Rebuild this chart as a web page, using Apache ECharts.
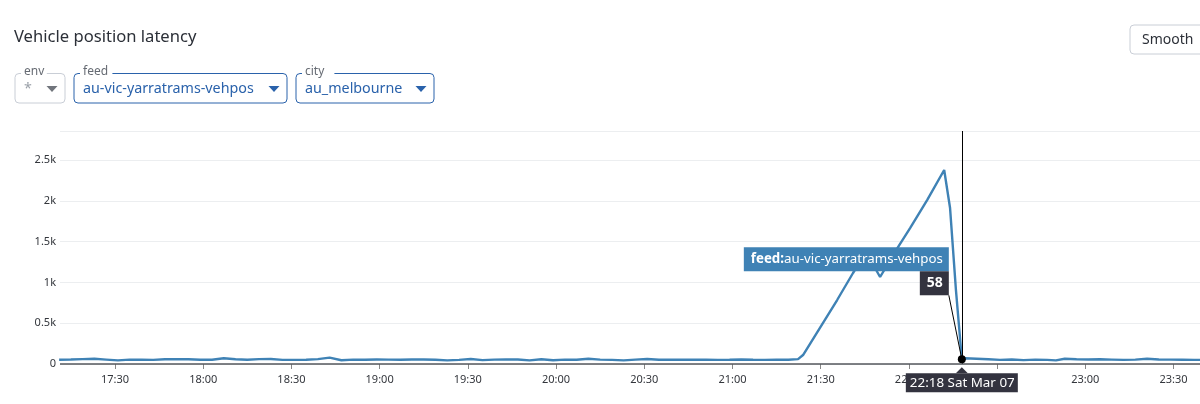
<!DOCTYPE html>
<html>
<head>
<meta charset="utf-8">
<style>
html, body { margin: 0; padding: 0; background: #fff; }
#chart { width: 1200px; height: 404px; }
</style>
<script src="https://cdn.jsdelivr.net/npm/echarts@6/dist/echarts.min.js"></script>
</head>
<body>
<div id="chart"></div>
<script>
// minutes after midnight and latency
var baseMinutes = [1031,1035,1039,1043,1047,1051,1055,1059,1063,1067,1071,1075,1079,1083,1087,1091,1095,1099,1103,1107,1111,1115,1119,1123,1127,1131,1135,1139,1143,1147,1151,1155,1159,1163,1167,1171,1175,1179,1183,1187,1191,1195,1199,1203,1207,1211,1215,1219,1223,1227,1231,1235,1239,1243,1247,1251,1255,1259,1263,1267,1271,1275,1279];
var baseLatency = [52,55,60,64,54,44,54,52,50,58,60,58,52,52,70,58,52,60,62,50,50,52,60,78,46,54,52,56,54,52,56,56,52,44,50,62,48,54,56,56,44,58,46,54,52,64,54,50,44,54,62,52,54,52,52,54,50,52,56,52,50,52,52];

var spikeMinutes = [1282.3,1284,1295.6,1301,1305.4,1310.2,1316.3,1320.4,1326.2,1332,1334,1336,1338];
var spikeLatency = [60,110,784,1115,1372,1066,1433,1666,2009,2377,1911,906,58];

var afterMinutes = [1339,1343,1347,1351,1355,1359,1363,1367,1370,1373,1377,1381,1385,1389,1393,1397,1401,1405,1409,1413,1417,1421];
var afterLatency = [70,64,58,50,56,48,54,50,44,64,58,56,58,54,50,54,64,56,54,52,50,50];

var tickMinutes = [1050,1080,1110,1140,1170,1200,1230,1260,1290,1320,1350,1380,1410];
var yTicks = [0, 500, 1000, 1500, 2000, 2500];

var feedName = 'au-vic-yarratrams-vehpos';
var hoverMinute = 1338;
var hoverValue = 58;
var filters = [
  { name: 'env', value: '*', active: false },
  { name: 'feed', value: feedName, active: true },
  { name: 'city', value: 'au_melbourne', active: true }
];

function two(n) { return (n < 10 ? '0' : '') + n; }
function clock(m) { return two(Math.floor(m / 60)) + ':' + two(m % 60); }

var font = '"Noto Sans", "Open Sans", sans-serif';
var allMinutes = baseMinutes.concat(spikeMinutes, afterMinutes);
var allLatency = baseLatency.concat(spikeLatency, afterLatency);
var seriesData = allMinutes.map(function (m, i) { return [m, allLatency[i]]; });

var chart = echarts.init(document.getElementById('chart'));
chart.setOption({
  animation: false,
  title: {
    text: 'Vehicle position latency', left: 14, top: 29, padding: 0,
    textStyle: { fontFamily: font, fontSize: 16.6, fontWeight: 'normal', color: '#2c3038' }
  },
  grid: { left: 60, right: 0, top: 131, bottom: 40 },
  xAxis: {
    type: 'value',
    offset: 3,
    min: 1031.3,
    max: 1419,
    axisLine: { show: false },
    axisTick: { show: true, length: 5, customValues: tickMinutes, lineStyle: { color: '#888' } },
    splitLine: { show: false },
    axisLabel: {
      fontFamily: font, fontSize: 11, color: '#33363c', margin: 7,
      customValues: tickMinutes,
      formatter: function (v) { return clock(v); }
    }
  },
  yAxis: {
    type: 'value', min: 0, max: 2855, interval: 500,
    axisLine: { show: false }, axisTick: { show: false },
    splitLine: { lineStyle: { color: '#eceef0', width: 1 } },
    axisLabel: {
      fontFamily: font, fontSize: 11, color: '#33363c', margin: 4,
      showMaxLabel: false,
      formatter: function (v) { return yTicks.indexOf(v) < 0 ? '' : (v === 0 ? '0' : (v / 1000) + 'k'); }
    }
  },
  series: [{
    type: 'line', data: seriesData, showSymbol: false, smooth: false,
    lineStyle: { color: '#3f82b5', width: 2.4 },
    markLine: {
      silent: true, symbol: 'none', label: { show: false },
      data: [
        { xAxis: hoverMinute, lineStyle: { color: '#000', width: 1, type: 'solid' } },
        { yAxis: 0, lineStyle: { color: '#55575c', width: 1.5, type: 'solid' } }
      ]
    },
    markPoint: {
      silent: true, symbol: 'circle', symbolSize: 8,
      itemStyle: { color: '#000' }, label: { show: false },
      data: [{ coord: [hoverMinute, hoverValue] }]
    }
  }]
});

// filter boxes, hover labels: drawn after the axes exist so they anchor to the data
function filterBoxes() {
  var out = [];
  var boxes = [[15, 50], [74, 213], [296, 138]];
  filters.forEach(function (f, i) {
    var x = boxes[i][0], w = boxes[i][1];
    var col = f.active ? '#2a62ab' : '#c9ced6';
    out.push({ type: 'rect', shape: { x: x, y: 73.5, width: w, height: 29.5, r: 4 }, style: { fill: '#fff', stroke: col, lineWidth: 1 } });
    var lw = f.name.length * 6.6;
    out.push({ type: 'rect', shape: { x: x + 6, y: 70, width: lw + 6, height: 7 }, style: { fill: '#fff' } });
    out.push({ type: 'text', x: x + 9, y: 66, style: { text: f.name, fontFamily: font, fontSize: 12, fill: '#666b73' } });
    out.push({ type: 'text', x: x + 9, y: 82, style: { text: f.value, fontFamily: font, fontSize: 14.3, fill: f.active ? '#2a62ab' : '#9aa0a8' } });
    var ax = x + w - 13;
    out.push({ type: 'polygon', shape: { points: [[ax - 5.5, 86], [ax + 5.5, 86], [ax, 92]] }, style: { fill: f.active ? '#2a62ab' : '#71757c' } });
  });
  out.push({ type: 'rect', shape: { x: 1130, y: 25, width: 90, height: 29, r: 4 }, style: { fill: '#fff', stroke: '#c9ced6', lineWidth: 1 } });
  out.push({ type: 'text', x: 1142, y: 33, style: { text: 'Smooth', fontFamily: font, fontSize: 14, fill: '#2c3038' } });
  return out;
}

function hoverLabels() {
  var p = chart.convertToPixel({ xAxisIndex: 0, yAxisIndex: 0 }, [hoverMinute, hoverValue]);
  var px = p[0], py = p[1];
  return [
    { type: 'rect', z: 20, shape: { x: px - 218, y: py - 112, width: 205, height: 24 }, style: { fill: '#3f82b5' } },
    { type: 'text', z: 21, x: px - 211, y: py - 107, style: {
        text: '{b|feed:}{n|' + feedName + '}',
        rich: {
          b: { fontFamily: font, fontSize: 13.3, fontWeight: 'bold', fill: '#fff' },
          n: { fontFamily: font, fontSize: 13.3, fill: '#fff' }
        } } },
    { type: 'rect', z: 20, shape: { x: px - 42, y: py - 88, width: 29, height: 24 }, style: { fill: '#33333f' } },
    { type: 'text', z: 21, x: px - 35, y: py - 83, style: { text: String(hoverValue), fontFamily: font, fontSize: 14, fontWeight: 'bold', fill: '#fff' } },
    { type: 'line', z: 19, shape: { x1: px - 13, y1: py - 64, x2: px, y2: py }, style: { stroke: '#000', lineWidth: 1 } },
    { type: 'polygon', z: 20, shape: { points: [[px - 6, py + 14], [px + 6, py + 14], [px, py + 8]] }, style: { fill: '#33333f' } },
    { type: 'rect', z: 20, shape: { x: px - 56, y: py + 14, width: 112, height: 19 }, style: { fill: '#33333f' } },
    { type: 'text', z: 21, x: px - 52, y: py + 17, style: { text: clock(hoverMinute) + ' Sat Mar 07', fontFamily: font, fontSize: 13.4, fill: '#fff' } }
  ];
}

chart.setOption({ graphic: filterBoxes().concat(hoverLabels()) });
</script>
</body>
</html>
